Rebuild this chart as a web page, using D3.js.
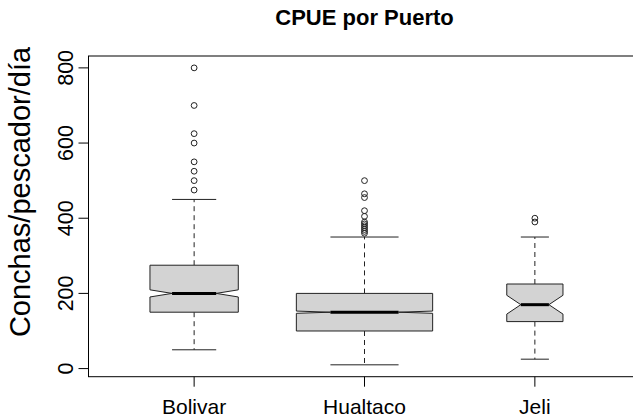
<!DOCTYPE html>
<html>
<head>
<meta charset="utf-8">
<script src="https://cdn.jsdelivr.net/npm/d3@7"></script>
<style>
  body { margin: 0; background: #fff; }
  text { font-family: "Liberation Sans", Arial, sans-serif; }
</style>
</head>
<body>
<div id="chart"></div>
<script>
// data
const puertos = ["Bolivar", "Hualtaco", "Jeli"];
const whiskerLo = [50, 10, 25];
const q1 = [150, 100, 125];
const medians = [200, 150, 170];
const q3 = [275, 200, 225];
const whiskerHi = [450, 350, 350];
const notchLo = [190.5, 147, 145];
const notchHi = [209.5, 153, 195];
const nObs = [420, 1000, 170]; // sample sizes, drive varwidth
const outliers = [
    [800, 700, 625, 600, 550, 525, 500, 475],
    [500, 465, 455, 420, 405, 390, 385, 380, 375, 370, 365, 360],
    [400, 390]
];
const yTicks = [0, 200, 400, 600, 800];

const width = 633, height = 420;
const plot = {left: 88.5, right: 640.5, top: 56, bottom: 376.7};

const svg = d3.select("#chart").append("svg")
    .attr("width", width)
    .attr("height", height);

// R style 4% axis extension
const allVals = [].concat(whiskerLo, whiskerHi, ...outliers);
let lo = d3.min(allVals), hi = d3.max(allVals);
let pad = (hi - lo) * 0.04;
const y = d3.scaleLinear().domain([lo - pad, hi + pad]).range([plot.bottom, plot.top]);
const x = d3.scaleLinear().domain([0.38, 3.62]).range([plot.left, plot.right]);

const maxN = d3.max(nObs);
const boxes = puertos.map((p, i) => ({
    name: p,
    cx: x(i + 1),
    hw: (x(1.4) - x(1)) * Math.sqrt(nObs[i] / maxN), // half width
    wLo: whiskerLo[i], q1: q1[i], med: medians[i], q3: q3[i], wHi: whiskerHi[i],
    nLo: notchLo[i], nHi: notchHi[i], out: outliers[i]
}));

const g = svg.append("g");

// whiskers (dashed)
g.selectAll(".whisk")
  .data(boxes.flatMap(d => [[d, d.q3, d.wHi], [d, d.q1, d.wLo]]))
  .join("line")
    .attr("x1", d => d[0].cx).attr("x2", d => d[0].cx)
    .attr("y1", d => y(d[1])).attr("y2", d => y(d[2]))
    .attr("stroke", "#222")
    .attr("stroke-dasharray", "5 4");

// staples
g.selectAll(".staple")
  .data(boxes.flatMap(d => [[d, d.wHi], [d, d.wLo]]))
  .join("line")
    .attr("x1", d => d[0].cx - d[0].hw / 2).attr("x2", d => d[0].cx + d[0].hw / 2)
    .attr("y1", d => y(d[1])).attr("y2", d => y(d[1]))
    .attr("stroke", "#222");

// notched boxes
g.selectAll(".box")
  .data(boxes)
  .join("path")
    .attr("d", d => {
        const L = d.cx - d.hw, R = d.cx + d.hw;
        const pts = [
            [L, y(d.q1)], [L, y(d.nLo)], [d.cx - d.hw / 2, y(d.med)], [L, y(d.nHi)], [L, y(d.q3)],
            [R, y(d.q3)], [R, y(d.nHi)], [d.cx + d.hw / 2, y(d.med)], [R, y(d.nLo)], [R, y(d.q1)]
        ];
        return d3.line()(pts) + "Z";
    })
    .attr("fill", "#d3d3d3")
    .attr("stroke", "#222");

// medians
g.selectAll(".median")
  .data(boxes)
  .join("line")
    .attr("x1", d => d.cx - d.hw / 2).attr("x2", d => d.cx + d.hw / 2)
    .attr("y1", d => y(d.med)).attr("y2", d => y(d.med))
    .attr("stroke", "#000")
    .attr("stroke-width", 3);

// outliers
g.selectAll(".out")
  .data(boxes.flatMap(d => d.out.map(v => [d.cx, v])))
  .join("circle")
    .attr("cx", d => d[0])
    .attr("cy", d => y(d[1]))
    .attr("r", 2.9)
    .attr("fill", "none")
    .attr("stroke", "#222");

// frame
svg.append("rect")
    .attr("x", plot.left).attr("y", plot.top)
    .attr("width", plot.right - plot.left).attr("height", plot.bottom - plot.top)
    .attr("fill", "none").attr("stroke", "#000");

// y axis
svg.append("line")
    .attr("x1", plot.left).attr("x2", plot.left)
    .attr("y1", y(yTicks[0])).attr("y2", y(yTicks[yTicks.length - 1]))
    .attr("stroke", "#000");
svg.selectAll(".ytick")
  .data(yTicks)
  .join("line")
    .attr("x1", plot.left - 10).attr("x2", plot.left)
    .attr("y1", d => y(d)).attr("y2", d => y(d))
    .attr("stroke", "#000");
svg.selectAll(".ylab")
  .data(yTicks)
  .join("text")
    .attr("transform", d => `translate(73,${y(d)}) rotate(-90)`)
    .attr("text-anchor", "middle")
    .style("font-size", "21.5px")
    .text(d => d);

// x axis
svg.selectAll(".xtick")
  .data(boxes)
  .join("line")
    .attr("x1", d => d.cx).attr("x2", d => d.cx)
    .attr("y1", plot.bottom).attr("y2", plot.bottom + 10)
    .attr("stroke", "#000");
svg.selectAll(".xlab")
  .data(boxes)
  .join("text")
    .attr("x", d => d.cx)
    .attr("y", 414)
    .attr("text-anchor", "middle")
    .style("font-size", "21px")
    .text(d => d.name);

// axis title
svg.append("text")
    .attr("transform", "translate(30,192) rotate(-90)")
    .attr("text-anchor", "middle")
    .style("font-size", "29px")
    .text("Conchas/pescador/día");

// chart title
svg.append("text")
    .attr("x", (plot.left + plot.right) / 2)
    .attr("y", 25)
    .attr("text-anchor", "middle")
    .style("font-size", "22px")
    .style("font-weight", "bold")
    .text("CPUE por Puerto");
</script>
</body>
</html>
